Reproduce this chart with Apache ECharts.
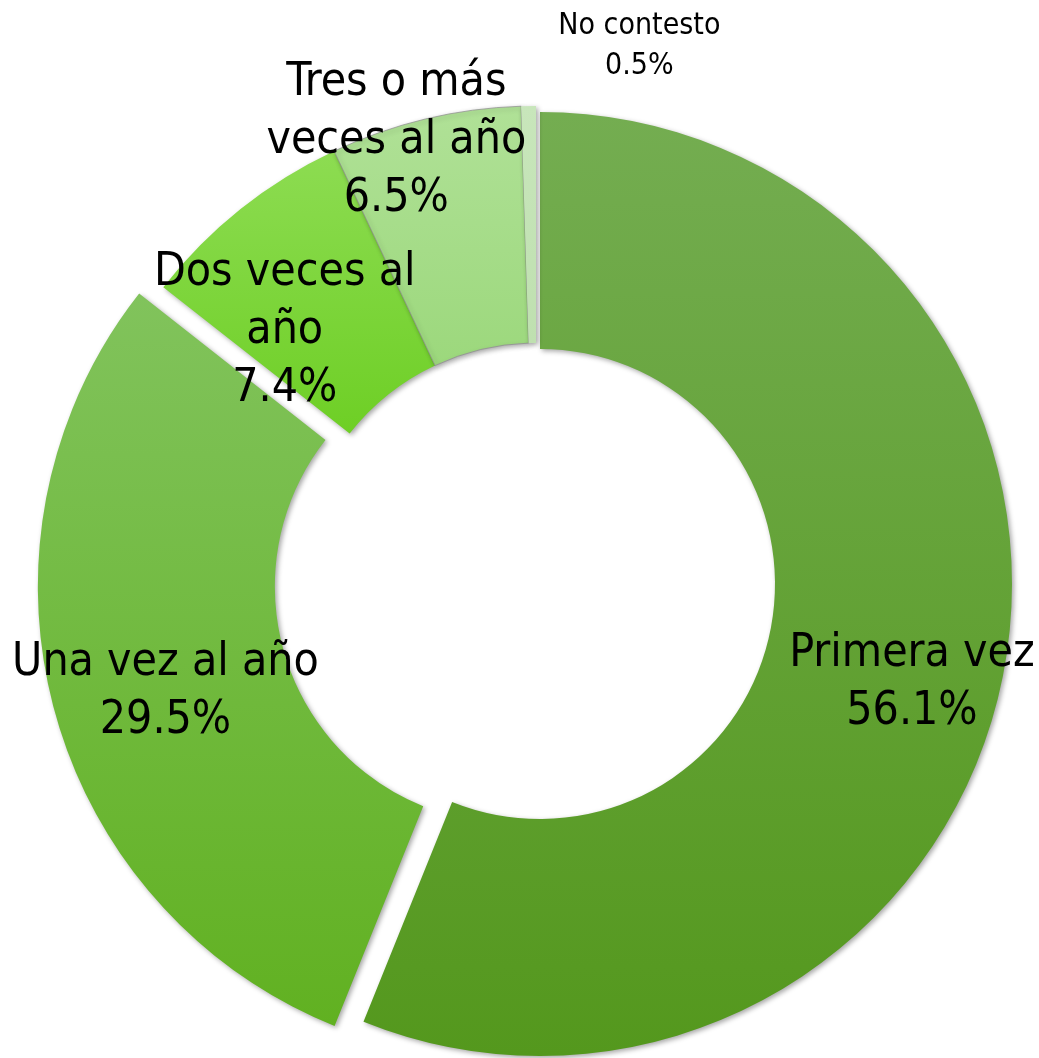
<!DOCTYPE html>
<html>
<head>
<meta charset="utf-8">
<script src="https://cdn.jsdelivr.net/npm/echarts@6/dist/echarts.min.js"></script>
<style>
  html, body { margin: 0; padding: 0; background: #fff; }
  #chart { width: 1039px; height: 1058px; }
</style>
</head>
<body>
<div id="chart"></div>
<script>
// data
var categories = ["Primera vez", "Una vez al año", "Dos veces al año", "Tres o más veces al año", "No contesto"];
var values = [56.1, 29.5, 7.4, 6.5, 0.5];
var labelLines = ["Primera vez", "Una vez al año", "Dos veces al\naño", "Tres o más\nveces al año", "No contesto"];

// styling
var gradients = [
  ["#74ad51", "#54981d"],
  ["#81c35c", "#61b121"],
  ["#8ddc52", "#6ecf25"],
  ["#b0e197", "#9cd87c"],
  ["#c8e6bb", "#bfe0b0"]
];
var labelShift = [[22, 31], [0, 13], [-28, 32], [-56, -90], [109, -175]];

var chart = echarts.init(document.getElementById("chart"));

function grad(c) {
  return new echarts.graphic.LinearGradient(0, 0, 0, 1, [
    { offset: 0, color: c[0] },
    { offset: 1, color: c[1] },
  ]);
}

function buildData(visible) {
  return values.map(function (v, i) {
    var show = visible(i);
    var small = i === 4;
    return {
      name: categories[i],
      value: v,
      selected: i === 1,
      itemStyle: show
        ? {
            color: grad(gradients[i]),
            borderColor: i === 3 ? "rgba(140,140,140,0.7)" : "rgba(0,0,0,0)",
            borderWidth: i === 3 ? 1 : 0,
            shadowBlur: 5,
            shadowOffsetX: 2,
            shadowOffsetY: 2,
            shadowColor: "rgba(0,0,0,0.35)",
          }
        : { color: "rgba(0,0,0,0)", borderWidth: 0 },
      label: {
        show: show,
        fontSize: small ? 30 : 46,
        lineHeight: small ? 40 : 58,
      },
    };
  });
}

function baseSeries(center, radius, visible) {
  return {
    type: "pie",
    center: center,
    radius: radius,
    startAngle: 90,
    clockwise: true,
    selectedMode: "multiple",
    selectedOffset: 25,
    avoidLabelOverlap: false,
    silent: true,
    animation: false,
    emphasis: { disabled: true },
    select: { itemStyle: {} },
    label: {
      position: "inside",
      color: "#000",
      fontFamily: "DejaVu Sans Condensed, DejaVu Sans",
      align: "center",
      formatter: function (p) {
        return labelLines[p.dataIndex] + "\n" + p.value.toFixed(1) + "%";
      },
    },
    labelLine: { show: false },
    labelLayout: function (p) {
      var s = labelShift[p.dataIndex];
      return { dx: s[0], dy: s[1] };
    },
    data: buildData(visible),
  };
}

var option = {
  backgroundColor: "#fff",
  series: [
    // "Primera vez" is pulled slightly out of the ring
    baseSeries([540, 584], [235, 472], function (i) { return i === 0; }),
    baseSeries([536, 580], [237, 474], function (i) { return i !== 0; }),
  ],
};

chart.setOption(option);
</script>
</body>
</html>
